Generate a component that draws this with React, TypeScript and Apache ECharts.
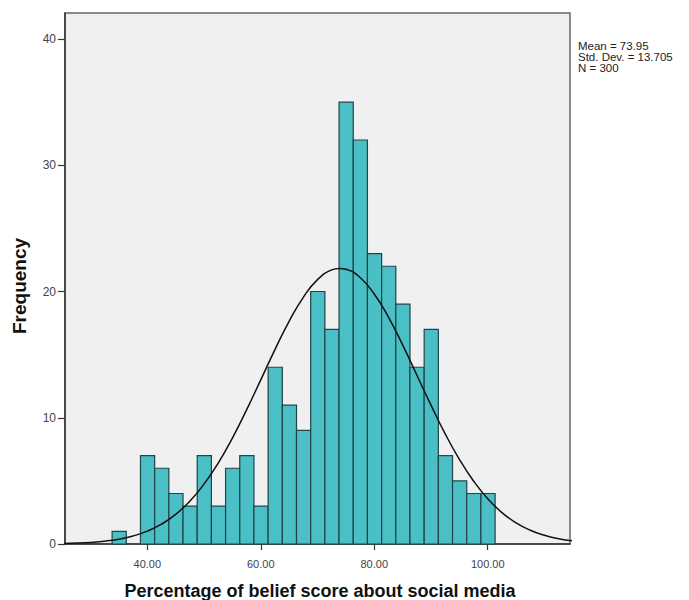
import React, { useEffect, useRef } from "react";
import * as echarts from "echarts";

// Histogram bins: lower edge, frequency (bin width 2.5)
const binStarts = [33.8, 36.3, 38.8, 41.3, 43.8, 46.3, 48.8, 51.3, 53.8, 56.3, 58.8, 61.3, 63.8, 66.3, 68.8, 71.3, 73.8, 76.3, 78.8, 81.3, 83.8, 86.3, 88.8, 91.3, 93.8, 96.3, 98.8];
const binWidth = 2.5;
const counts = [1, 0, 7, 6, 4, 3, 7, 3, 6, 7, 3, 14, 11, 9, 20, 17, 35, 32, 23, 22, 19, 14, 17, 7, 5, 4, 4];

// Normal curve points (x, frequency)
const curveX = [25, 27.5, 30, 32.5, 35, 37.5, 40, 42.5, 45, 47.5, 50, 52.5, 55, 57.5, 60, 62.5, 65, 67.5, 70, 72.5, 73.95, 75, 77.5, 80, 82.5, 85, 87.5, 90, 92.5, 95, 97.5, 100, 102.5, 105, 107.5, 110, 112.5, 115];
const curveY = [0.037, 0.07, 0.128, 0.225, 0.385, 0.636, 1.016, 1.569, 2.345, 3.39, 4.741, 6.414, 8.394, 10.62, 13.0, 15.4, 17.64, 19.54, 20.94, 21.71, 21.83, 21.77, 21.11, 19.8, 17.97, 15.77, 13.39, 11.0, 8.73, 6.71, 4.99, 3.585, 2.49, 1.676, 1.091, 0.687, 0.418, 0.246];

const xTicks = [40, 60, 80, 100];
const yTicks = [0, 10, 20, 30, 40];
const statsLines = ["Mean = 73.95", "Std. Dev. = 13.705", "N = 300"];
const xTitle = "Percentage of belief score about social media";
const yTitle = "Frequency";

export default function App() {
  const ref = useRef<HTMLDivElement>(null);
  useEffect(() => {
    if (!ref.current) return;
    const chart = echarts.init(ref.current, null, { renderer: "svg" });
    const barData = binStarts
      .map((s, i) => [s, s + binWidth, counts[i]])
      .filter((d) => d[2] > 0);
    const font = "Arial, 'Liberation Sans', sans-serif";
    chart.setOption({
      animation: false,
      backgroundColor: "#ffffff",
      grid: {
        left: 65,
        right: 119,
        top: 13,
        bottom: 56,
        show: true,
        backgroundColor: "#F0F0F0",
        borderColor: "#666666",
        borderWidth: 1.5,
      },
      xAxis: {
        type: "value",
        min: 25.5,
        max: 114.5,
        axisLine: { show: true, onZero: false, lineStyle: { color: "#333", width: 1.5 } },
        axisTick: { show: true, length: 6, customValues: xTicks, lineStyle: { color: "#333", width: 1.2 } },
        axisLabel: {
          customValues: xTicks,
          formatter: (v: number) => v.toFixed(2),
          fontFamily: font,
          fontSize: 11,
          color: "#444",
          margin: 14,
        },
        splitLine: { show: false },
      },
      yAxis: {
        type: "value",
        min: 0,
        max: 42.06,
        axisLine: { show: true, lineStyle: { color: "#333", width: 1.5 } },
        axisTick: { show: true, length: 7, customValues: yTicks, lineStyle: { color: "#333", width: 1.2 } },
        axisLabel: {
          customValues: yTicks,
          fontFamily: font,
          fontSize: 12,
          color: "#444",
          margin: 9,
        },
        splitLine: { show: false },
      },
      series: [
        {
          type: "custom",
          data: barData,
          encode: { x: [0, 1], y: 2 },
          renderItem: (params: any, api: any) => {
            const x0 = api.value(0);
            const x1 = api.value(1);
            const y = api.value(2);
            const p0 = api.coord([x0, y]);
            const p1 = api.coord([x1, 0]);
            return {
              type: "rect",
              shape: { x: p0[0], y: p0[1], width: p1[0] - p0[0], height: p1[1] - p0[1] },
              style: { fill: "#4BBFC6", stroke: "#1F4449", lineWidth: 1.2 },
            };
          },
          z: 2,
        },
        {
          type: "line",
          data: curveX.map((x, i) => [x, curveY[i]]),
          smooth: true,
          showSymbol: false,
          lineStyle: { color: "#111", width: 1.5 },
          clip: true,
          z: 3,
        },
      ],
      graphic: [
        ...statsLines.map((t, i) => ({
          type: "text",
          x: 578,
          y: 45.5 + i * 11,
          style: { text: t, font: `11.5px ${font}`, fill: "#222", verticalAlign: "middle", align: "left" },
        })),
        {
          type: "text",
          x: 320,
          y: 591,
          style: { text: xTitle, font: `bold 18px ${font}`, fill: "#111", align: "center", verticalAlign: "middle" },
        },
        {
          type: "text",
          x: 19,
          y: 286,
          rotation: Math.PI / 2,
          style: { text: yTitle, font: `bold 19px ${font}`, fill: "#111", align: "center", verticalAlign: "middle" },
        },
      ],
    });
    return () => chart.dispose();
  }, []);
  return <div ref={ref} style={{ position: "absolute", left: 0, top: 0, width: 689, height: 600 }} />;
}
